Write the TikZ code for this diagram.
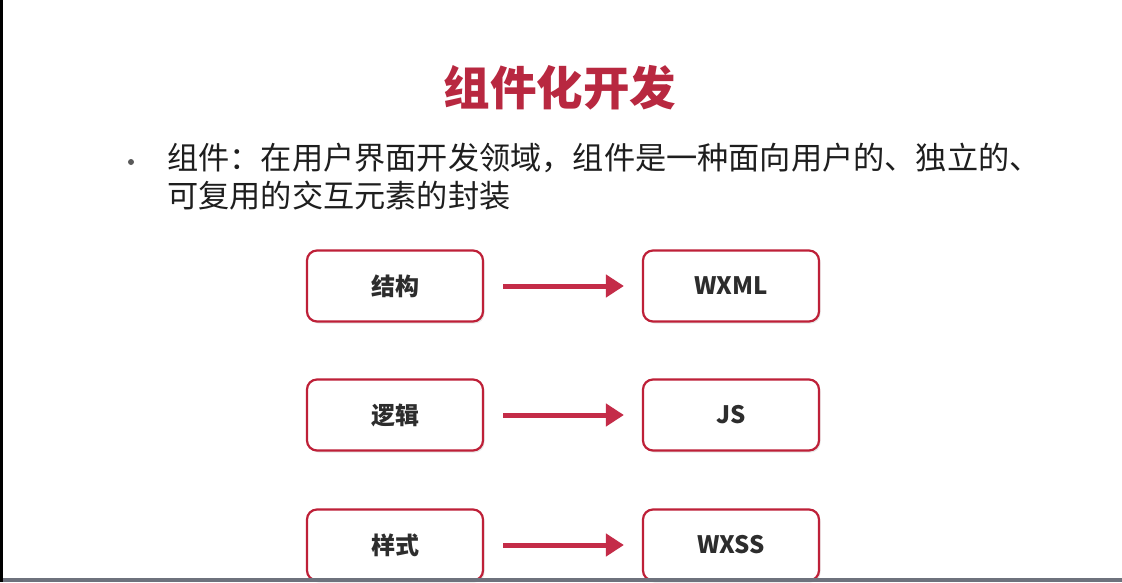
\documentclass[tikz,border=0pt]{standalone}
\usepackage{fontspec}
\newfontfamily\cjk{Noto Sans CJK SC}
\usetikzlibrary{arrows.meta,shadows}
\definecolor{titlered}{RGB}{184,40,64}
\definecolor{boxred}{RGB}{190,32,56}
\definecolor{arrowred}{RGB}{196,44,72}
\definecolor{bodytext}{RGB}{30,30,30}
\definecolor{boxtext}{RGB}{45,45,45}
\definecolor{barcol}{RGB}{110,114,125}
\tikzset{
  compbox/.style={draw=boxred, line width=2.2pt, rounded corners=10pt, fill=white,
    minimum width=176pt, minimum height=71pt, inner sep=0pt,
    font=\cjk\bfseries\fontsize{24}{28}\selectfont, text=boxtext,
    drop shadow={opacity=0.18, shadow xshift=1.5pt, shadow yshift=-2pt}},
  maparrow/.style={draw=arrowred, line width=5pt, -{Triangle[length=18pt,width=22pt]}},
}
\begin{document}
\begin{tikzpicture}[x=1pt,y=-1pt]
\useasboundingbox (0,0) rectangle (1122,582);
\fill[white] (0,0) rectangle (1122,582);
\fill[black] (0,0) rectangle (3,582);
\node[text=titlered, font=\cjk\bfseries\fontsize{46.5}{50}\selectfont] (title) at (560,88) {组件化开发};
\fill[gray!70!black] (131,162) circle (3pt);
\node[anchor=north west, inner sep=0pt, align=left, text=bodytext,
  font=\cjk\fontsize{31.2}{38}\selectfont] (body) at (167,143)
  {组件：在用户界面开发领域，组件是一种面向用户的、独立的、\\可复用的交互元素的封装};
\node[compbox] (l1) at (395,286) {结构};
\node[compbox] (r1) at (731,286) {WXML};
\node[compbox] (l2) at (395,415) {逻辑};
\node[compbox] (r2) at (731,415) {JS};
\node[compbox] (l3) at (395,545) {样式};
\node[compbox] (r3) at (731,545) {WXSS};
\draw[maparrow] ([xshift=19pt]l1.east) -- ([xshift=-18pt]r1.west);
\draw[maparrow] ([xshift=19pt]l2.east) -- ([xshift=-18pt]r2.west);
\draw[maparrow] ([xshift=19pt]l3.east) -- ([xshift=-18pt]r3.west);
\fill[barcol] (0,578) rectangle (1122,582);
\fill[black] (0,578) rectangle (3,582);
\end{tikzpicture}
\end{document}
